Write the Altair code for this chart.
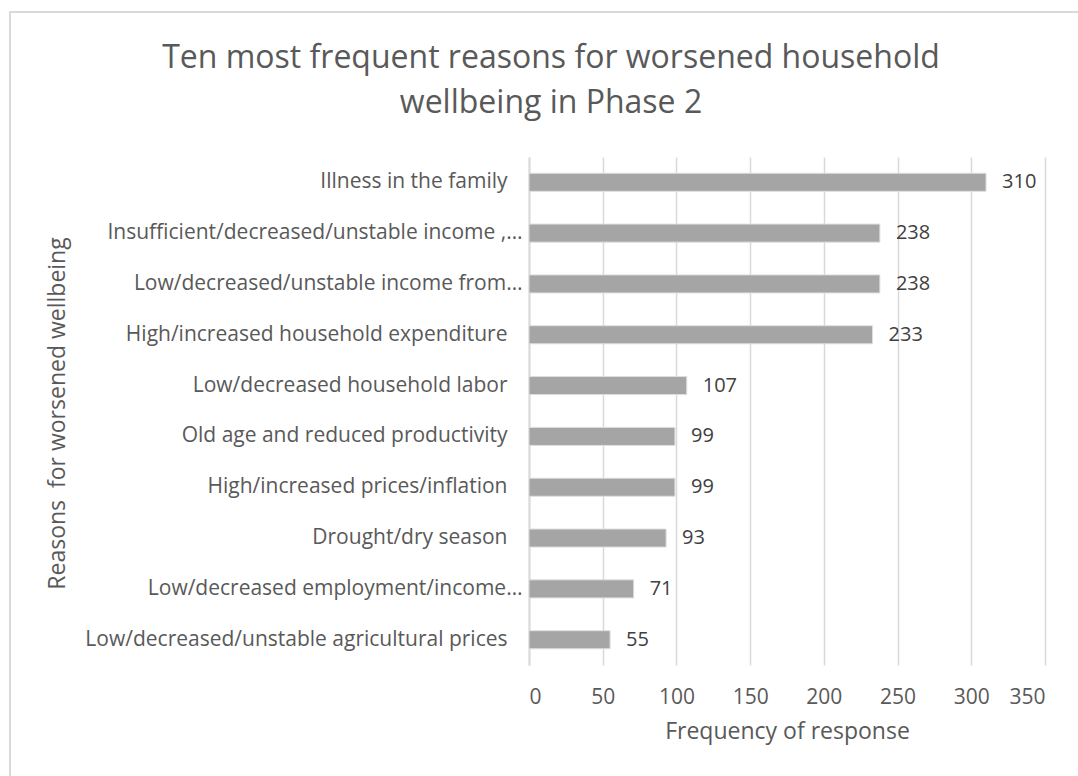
import altair as alt
import pandas as pd

reasons = [
    "Illness in the family",
    "Insufficient/decreased/unstable income ,…",
    "Low/decreased/unstable income from…",
    "High/increased household expenditure",
    "Low/decreased household labor",
    "Old age and reduced productivity",
    "High/increased prices/inflation",
    "Drought/dry season",
    "Low/decreased employment/income…",
    "Low/decreased/unstable agricultural prices",
]
counts = [310, 238, 238, 233, 107, 99, 99, 93, 71, 55]
x_ticks = [0, 50, 100, 150, 200, 250, 300, 350]

df = pd.DataFrame({"reason": reasons, "count": counts})

FONT = "Open Sans"
TXT = "#595959"

y_enc = alt.Y(
    "reason:N",
    sort=reasons,
    scale=alt.Scale(paddingInner=0.645, paddingOuter=0.32),
    axis=alt.Axis(
        title="Reasons \u00a0for worsened wellbeing",
        titleFont=FONT, titleFontSize=23, titleFontWeight="normal", titleColor=TXT,
        titleAngle=270, titleX=-472, titleY=256, titleAlign="center", titleBaseline="middle",
        labelFont=FONT, labelFontSize=21, labelColor=TXT, labelLimit=0,
        labelPadding={"condition": {"test": "indexof(datum.label, '…') < 0", "value": 22}, "value": 7},
        ticks=False, domain=True, domainColor="#d9d9d9", domainWidth=2, grid=False,
    ),
)
x_enc = alt.X(
    "count:Q",
    scale=alt.Scale(domain=[0, 350], nice=False),
    axis=alt.Axis(
        values=x_ticks, title="Frequency of response",
        titleFont=FONT, titleFontSize=23, titleFontWeight="normal", titleColor=TXT, titlePadding=13,
        labelFont=FONT, labelFontSize=21, labelColor=TXT, labelPadding=21,
        ticks=False, domain=False, grid=True, gridColor="#d9d9d9", gridWidth=1.5,
    ),
)

bars = alt.Chart(df).mark_bar(color="#a5a5a5", stroke="#dedede", strokeWidth=1).encode(
    x=x_enc, y=y_enc
)
labels = alt.Chart(df).mark_text(
    align="left", baseline="middle", dx=16, font=FONT, fontSize=20, color="#404040"
).encode(x="count:Q", y=alt.Y("reason:N", sort=reasons), text="count:Q")

border = alt.Chart(pd.DataFrame({"a": [0]})).mark_rect(
    fill=None, stroke="#d9d9d9", strokeWidth=2
).encode(
    x=alt.value(-519), x2=alt.value(600), y=alt.value(-145), y2=alt.value(700)
)

chart = alt.layer(border, bars, labels).properties(
    width=516,
    height=508,
    padding={"left": 529, "top": 157, "right": 33, "bottom": 111},
    autosize=alt.AutoSizeParams(type="none"),
    background="white",
    title=alt.TitleParams(
        text=["Ten most frequent reasons for worsened household", "wellbeing in Phase 2"],
        font=FONT, fontSize=32, fontWeight="normal", color=TXT,
        anchor="middle", frame="group", dx=-236, dy=109, offset=0, lineHeight=45,
    ),
).configure_view(stroke=None)

chart.save("out.html", embed_options={"renderer": "svg", "actions": False})
